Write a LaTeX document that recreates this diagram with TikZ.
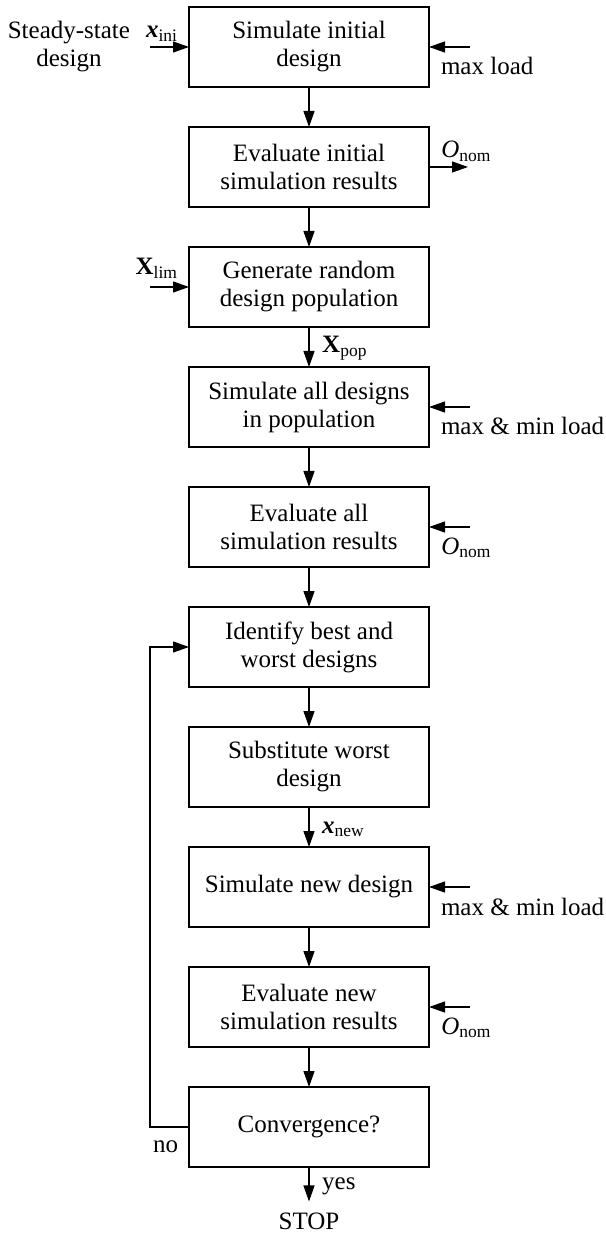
\documentclass[tikz,border=0pt]{standalone}
\usepackage{fontspec}
\setmainfont{Liberation Serif}
\usetikzlibrary{arrows.meta,positioning,calc}
\tikzset{
  flow/.style={-{Triangle[length=8pt,width=5.5pt]},line width=0.6pt,draw=black},
  box/.style={draw=black,line width=0.6pt,align=center,outer sep=0pt,
              minimum width=120pt,minimum height=40pt,inner sep=0pt},
  note/.style={inner sep=3.3pt}
}

\begin{document}
\begin{tikzpicture}[node distance=20pt,font=\fontsize{12.5}{14}\selectfont]
  \useasboundingbox (0,0) rectangle (302.5pt,-617pt);
  % main chain
  \node[box] (siminit) at (154.5pt,-23.5pt) {Simulate initial\\design};
  \node[box,below=of siminit] (evalinit) {Evaluate initial\\simulation results};
  \node[box,below=of evalinit] (genpop) {Generate random\\design population};
  \node[box,below=of genpop] (simall) {Simulate all designs\\in population};
  \node[box,below=of simall] (evalall) {Evaluate all\\simulation results};
  \node[box,below=of evalall] (ident) {Identify best and\\worst designs};
  \node[box,below=of ident] (subst) {Substitute worst\\design};
  \node[box,below=of subst] (simnew) {Simulate new design};
  \node[box,below=of simnew] (evalnew) {Evaluate new\\simulation results};
  \node[box,below=of evalnew] (conv) {Convergence?};
  \node[note,anchor=base] (stop) at ([yshift=-31pt]conv.south) {STOP};

  \draw[flow] (siminit) -- (evalinit);
  \draw[flow] (evalinit) -- (genpop);
  \draw[flow] (genpop) -- node[note,anchor=base west,xshift=3pt,yshift=-3pt]
    {\textbf{X}\textsubscript{pop}} (simall);
  \draw[flow] (simall) -- (evalall);
  \draw[flow] (evalall) -- (ident);
  \draw[flow] (ident) -- (subst);
  \draw[flow] (subst) -- node[note,anchor=base west,xshift=3pt,yshift=-3pt]
    {\textbf{\textit{x}}\textsubscript{new}} (simnew);
  \draw[flow] (simnew) -- (evalnew);
  \draw[flow] (evalnew) -- (conv);
  \draw[flow,shorten >=2pt] (conv) -- node[note,anchor=base west,xshift=3pt,yshift=-1.5pt]
    {yes} (stop);

  % inputs on the left
  \coordinate[left=19.5pt of siminit] (xini);
  \draw[flow] (xini) -- (siminit);
  \node[note,align=center,anchor=east] (steady) at ([xshift=-6.5pt]xini)
    {Steady-state\\design};
  \node[note,anchor=base east] (xinilab) at ([xshift=-2pt,yshift=4.75pt]siminit.west)
    {\textbf{\textit{x}}\textsubscript{ini}};
  \coordinate[left=19.5pt of genpop] (xlim);
  \draw[flow] (xlim) -- (genpop);
  \node[note,anchor=base east] (xlimlab) at ([xshift=-2pt,yshift=6pt]genpop.west)
    {\textbf{X}\textsubscript{lim}};

  % loads and objectives on the right
  \coordinate[right=20.5pt of siminit] (maxload);
  \draw[flow] (maxload) -- (siminit);
  \node[note,anchor=base west] (maxloadlab) at ([xshift=2.5pt,yshift=-14pt]siminit.east)
    {max load};
  \coordinate[right=19.5pt of evalinit] (onom);
  \draw[flow] (evalinit) -- (onom);
  \node[note,anchor=base west] (onomlab) at ([xshift=2.7pt,yshift=4.5pt]evalinit.east)
    {\textit{O}\textsubscript{nom}};
  \coordinate[right=20.5pt of simall] (loadall);
  \draw[flow] (loadall) -- (simall);
  \node[note,anchor=base west] (loadalllab) at ([xshift=2.5pt,yshift=-14pt]simall.east)
    {max \& min load};
  \coordinate[right=20.5pt of evalall] (onomall);
  \draw[flow] (onomall) -- (evalall);
  \node[note,anchor=base west] (onomalllab) at ([xshift=2.7pt,yshift=-13.5pt]evalall.east)
    {\textit{O}\textsubscript{nom}};
  \coordinate[right=20.5pt of simnew] (loadnew);
  \draw[flow] (loadnew) -- (simnew);
  \node[note,anchor=base west] (loadnewlab) at ([xshift=2.5pt,yshift=-14pt]simnew.east)
    {max \& min load};
  \coordinate[right=20.5pt of evalnew] (onomnew);
  \draw[flow] (onomnew) -- (evalnew);
  \node[note,anchor=base west] (onomnewlab) at ([xshift=2.7pt,yshift=-13.5pt]evalnew.east)
    {\textit{O}\textsubscript{nom}};

  % feedback loop
  \draw[flow] (conv.west) -- ++(-19.5pt,0) |- (ident.west);
  \node[note,anchor=base east] (nolab) at ([xshift=-2pt,yshift=-12.5pt]conv.west) {no};
\end{tikzpicture}
\end{document}
